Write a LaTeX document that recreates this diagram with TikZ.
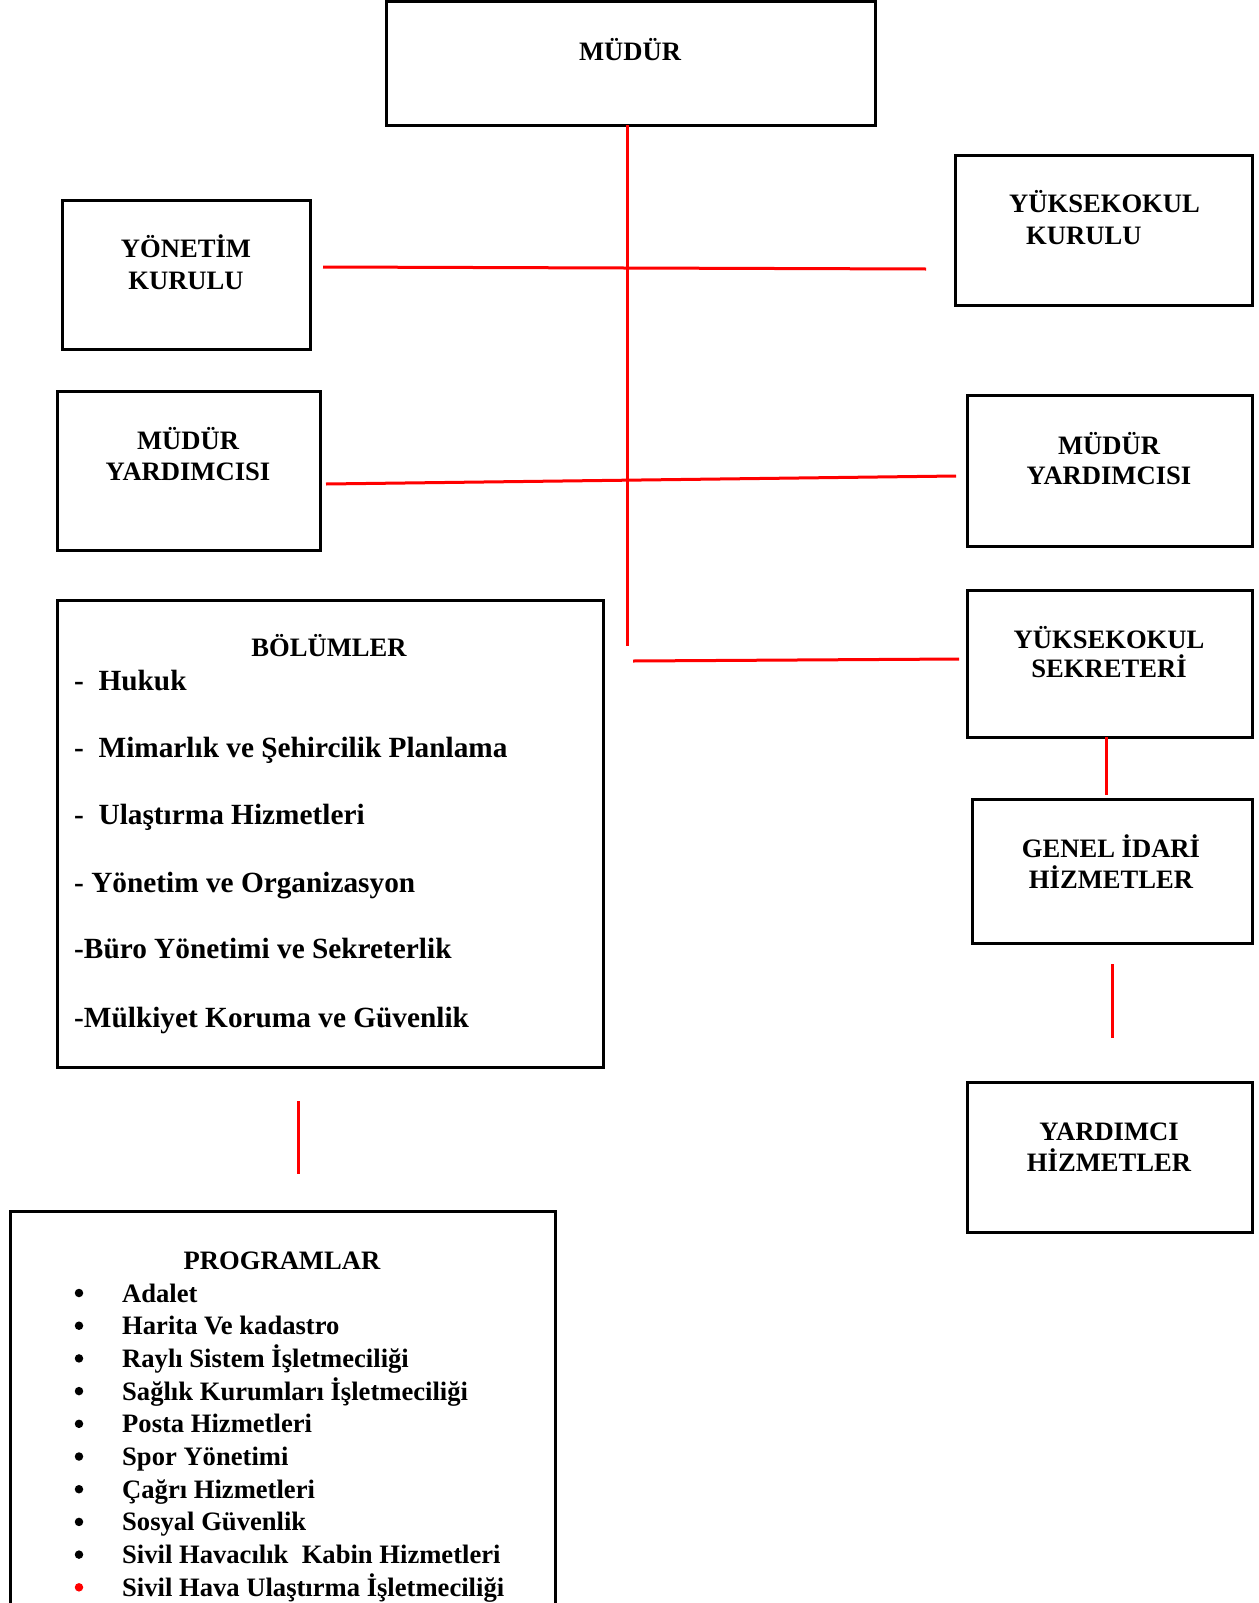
\documentclass[tikz,border=0pt]{standalone}
\usepackage{fontspec}
\setmainfont{Liberation Serif}
\begin{document}
\begin{tikzpicture}[x=1pt,y=-1pt,
  box/.style={draw=black,line width=3pt,inner sep=0pt,outer sep=0pt},
  lbl/.style={font=\bfseries\fontsize{26.6}{30.6}\selectfont,inner sep=0pt,anchor=base},
  lblw/.style={font=\bfseries\fontsize{26.6}{30.6}\selectfont,inner sep=0pt,anchor=base west},
  item/.style={font=\bfseries\fontsize{29.3}{33.7}\selectfont,inner sep=0pt,anchor=base west},
  conn/.style={draw=red,line width=3pt},
  dot/.style={circle,fill=black,inner sep=0pt,minimum size=8.5pt}]
\clip (0,0) rectangle (1258,1603);
\fill[white] (0,0) rectangle (1258,1603);
% boxes
\node[box,minimum width=489pt,minimum height=123pt] (mudur) at (630.5,63.5) {};
\node[box,minimum width=248pt,minimum height=149pt] (yonetim) at (186,274.5) {};
\node[box,minimum width=297pt,minimum height=150pt] (ykurulu) at (1103.5,230) {};
\node[box,minimum width=263pt,minimum height=159pt] (myl) at (188.5,470.5) {};
\node[box,minimum width=285pt,minimum height=151pt] (myr) at (1109.5,470.5) {};
\node[box,minimum width=546pt,minimum height=467pt] (bolum) at (330,833.5) {};
\node[box,minimum width=285pt,minimum height=147pt] (sekreter) at (1109.5,663.5) {};
\node[box,minimum width=280pt,minimum height=144pt] (genel) at (1112,871) {};
\node[box,minimum width=285pt,minimum height=150pt] (yardimci) at (1109.5,1157) {};
\node[box,minimum width=545pt,minimum height=420pt] (program) at (282.5,1421) {};
% labels
\node[lbl] (t1) at (630,60) {MÜDÜR};
\node[lbl] (t2a) at (186,257) {YÖNETİM};
\node[lbl] (t2b) at (186,289) {KURULU};
\node[lblw] (t3a) at (1009,212) {YÜKSEKOKUL};
\node[lblw] (t3b) at (1026,244) {KURULU};
\node[lbl] (t4a) at (188,449) {MÜDÜR};
\node[lbl] (t4b) at (188,480) {YARDIMCISI};
\node[lbl] (t5a) at (1109,454) {MÜDÜR};
\node[lbl] (t5b) at (1109,484) {YARDIMCISI};
\node[lbl] (t6a) at (1109,648) {YÜKSEKOKUL};
\node[lbl] (t6b) at (1109,677) {SEKRETERİ};
\node[lbl] (t7a) at (1111,857) {GENEL İDARİ};
\node[lbl] (t7b) at (1111,888) {HİZMETLER};
\node[lbl] (t8a) at (1109,1140) {YARDIMCI};
\node[lbl] (t8b) at (1109,1171) {HİZMETLER};
% bolumler
\node[lbl] (bh) at (329,656) {BÖLÜMLER};
\node[item] (b1) at (74,690) {-\ \ Hukuk};
\node[item] (b2) at (74,757) {-\ \ Mimarlık ve Şehircilik Planlama};
\node[item] (b3) at (74,824) {-\ \ Ulaştırma Hizmetleri};
\node[item] (b4) at (74,892) {- Yönetim ve Organizasyon};
\node[item] (b5) at (74,958) {-Büro Yönetimi ve Sekreterlik};
\node[item] (b6) at (74,1027) {-Mülkiyet Koruma ve Güvenlik};
% programlar
\node[lbl] (ph) at (282,1269) {PROGRAMLAR};
\foreach \i/\t in {0/Adalet,1/Harita Ve kadastro,2/Raylı Sistem İşletmeciliği,3/Sağlık Kurumları İşletmeciliği,4/Posta Hizmetleri,5/Spor Yönetimi,6/Çağrı Hizmetleri,7/Sosyal Güvenlik,8/Sivil Havacılık\ \ Kabin Hizmetleri}{
  \node[dot] (pd\i) at (79,1293+32.7*\i) {};
  \node[lblw] (p\i) at (122,1302+32.7*\i) {\t};
}
\node[dot,fill=red] (pd9) at (79,1293+32.7*9) {};
\node[lblw] (p9) at (122,1302+32.7*9) {Sivil Hava Ulaştırma İşletmeciliği};
% connector end points
\coordinate (vtop) at (627,125);
\coordinate (vbot) at (627,646);
\coordinate (h1a) at (323,267);
\coordinate (h1b) at (926,269);
\coordinate (h2a) at (326,484);
\coordinate (h2b) at (956,476);
\coordinate (h3a) at (633,661);
\coordinate (h3b) at (959,659);
\coordinate (s1a) at (1106,737);
\coordinate (s1b) at (1106,795);
\coordinate (s2a) at (1112,964);
\coordinate (s2b) at (1112,1038);
\coordinate (s3a) at (298,1101);
\coordinate (s3b) at (298,1174);
\draw[conn] (vtop) -- (vbot);
\draw[conn] (h1a) -- (h1b);
\draw[conn] (h2a) -- (h2b);
\draw[conn] (h3a) -- (h3b);
\draw[conn] (s1a) -- (s1b);
\draw[conn] (s2a) -- (s2b);
\draw[conn] (s3a) -- (s3b);
\end{tikzpicture}
\end{document}
